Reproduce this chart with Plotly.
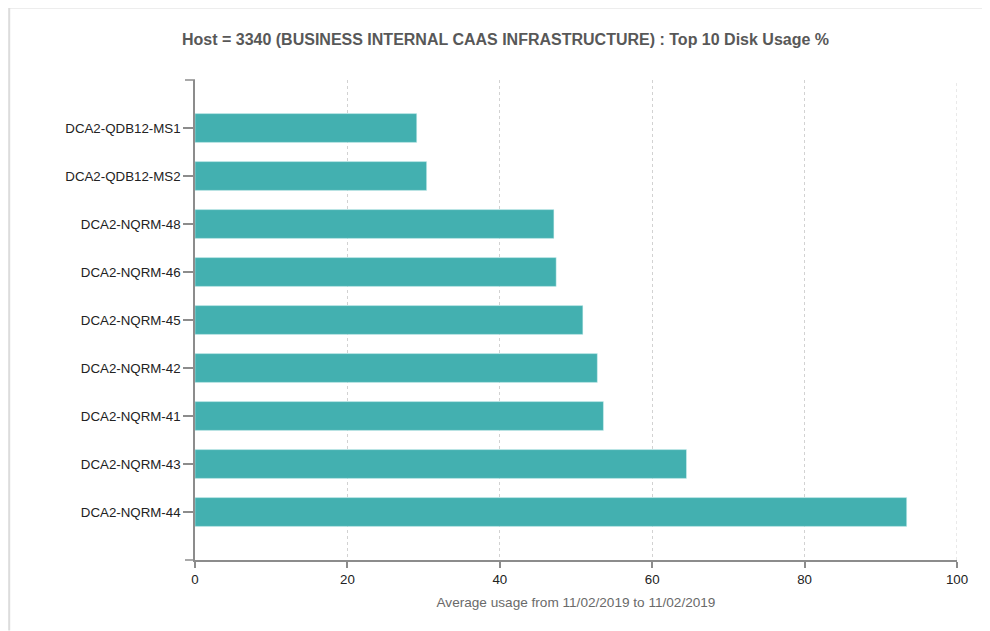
import plotly.graph_objects as go

categories = ["DCA2-QDB12-MS1", "DCA2-QDB12-MS2", "DCA2-NQRM-48", "DCA2-NQRM-46",
              "DCA2-NQRM-45", "DCA2-NQRM-42", "DCA2-NQRM-41", "DCA2-NQRM-43", "DCA2-NQRM-44"]
values = [29.1, 30.4, 47.1, 47.4, 50.9, 52.8, 53.6, 64.5, 93.4]
x_ticks = [0, 20, 40, 60, 80, 100]

title_text = "Host = 3340 (BUSINESS INTERNAL CAAS INFRASTRUCTURE) : Top 10 Disk Usage %"
x_title = "Average usage from 11/02/2019 to 11/02/2019"

OFF = 8  # page body margin
W, H = 982, 623
L = 194.5 - OFF
T = 80 - OFF
R = W - (957.3 - OFF)
B = H - (560.5 - OFF)
pw = W - L - R
ph = H - T - B

fig = go.Figure()
fig.add_trace(go.Bar(
    y=categories, x=values, orientation="h",
    width=0.6,
    marker=dict(color="#43b0b0", line=dict(width=0.6, color="rgba(220,245,245,0.8)")),
    hoverinfo="x+y",
))

axis_col = "#8c8c8c"
grid_col = "#d2d2d2"
FONT = "Liberation Sans, Arial, sans-serif"

fig.update_layout(
    width=W, height=H,
    margin=dict(l=L, r=R, t=T, b=B, autoexpand=False),
    paper_bgcolor="white", plot_bgcolor="white",
    font=dict(family=FONT, size=13, color="#222"),
    showlegend=False,
    title=dict(text="<b>" + title_text + "</b>", x=(505.5 - OFF) / W, xref="container", xanchor="center",
               y=1 - (39.5 - OFF) / H, yref="container", yanchor="middle",
               font=dict(size=16, color="#585858", family=FONT)),
    xaxis=dict(
        range=[0, 100], tickvals=x_ticks, ticktext=[str(v) for v in x_ticks],
        showgrid=True, gridcolor=grid_col, griddash="3px,3px", gridwidth=1,
        zeroline=False,
        showline=True, linecolor=axis_col, linewidth=1.5,
        ticks="outside", ticklen=6, tickcolor=axis_col, tickwidth=1.5,
        tickfont=dict(size=13.3, color="#222"),
        title=dict(text=x_title, font=dict(size=13.6, color="#6a6a6a"), standoff=12),
        fixedrange=True,
    ),
    yaxis=dict(
        type="category", categoryorder="array", categoryarray=categories,
        range=[len(categories), -1],
        showgrid=False, zeroline=False,
        showline=True, linecolor=axis_col, linewidth=1.5,
        ticks="outside", ticklen=10, tickcolor=axis_col, tickwidth=1.5,
        tickfont=dict(size=13.3, color="#222"),
        fixedrange=True,
    ),
)

# gridline at the last tick (plotly hides the one on the plot edge)
fig.add_shape(type="line", xref="x", yref="paper",
              x0=x_ticks[-1], x1=x_ticks[-1], y0=0, y1=1,
              line=dict(color=grid_col, width=1, dash="3px,3px"), layer="below")

# outer ticks at the ends of the y axis (d3-style domain path)
for yy in (0, 1):
    fig.add_shape(type="line", xref="paper", yref="paper",
                  x0=-10 / pw, x1=0, y0=yy, y1=yy,
                  line=dict(color=axis_col, width=1.5), layer="above")

# light card border (top and left)
top_y = (H - B + 0.5) / ph
left_x = (0.5 - L) / pw
fig.add_shape(type="line", xref="paper", yref="paper",
              x0=left_x, x1=(W - L) / pw, y0=top_y, y1=top_y,
              line=dict(color="#dcdcdc", width=2), layer="above")
fig.add_shape(type="line", xref="paper", yref="paper",
              x0=left_x, x1=left_x, y0=top_y, y1=-B / ph,
              line=dict(color="#dcdcdc", width=2), layer="above")

fig.write_html("out.html")
